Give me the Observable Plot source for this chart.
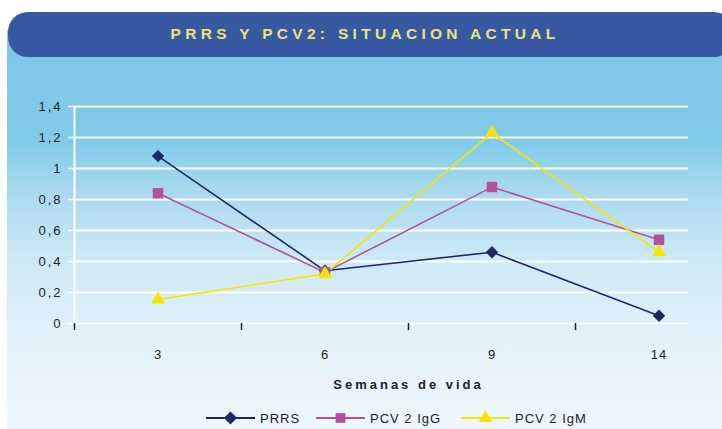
<!DOCTYPE html>
<html>
<head>
<meta charset="utf-8">
<script src="https://cdn.jsdelivr.net/npm/d3@7"></script>
<script src="https://cdn.jsdelivr.net/npm/@observablehq/plot@0.6"></script>
<style>
  html, body { margin: 0; padding: 0; background: #ffffff; }
  #wrap { position: relative; width: 722px; height: 429px; overflow: hidden; font-family: "Liberation Sans", Arial, sans-serif; }
  #panel { position: absolute; left: 7px; top: 30px; width: 720px; height: 400px;
    background: linear-gradient(to bottom, #7ec5e6 0px, #80cbe8 110px, #a8d9ef 160px, #cde9f6 230px, #e2f2fb 310px, #eef7fd 400px); }
  #header { position: absolute; left: 8px; top: 12px; width: 726px; height: 45px; border-radius: 20px;
    background: #3759a1; color: #ece47a; font-weight: bold; font-size: 15.5px; letter-spacing: 4.3px;
    text-align: center; line-height: 44px; }
  #header span { position: absolute; left: 0; width: 722px; text-align: center; margin-left: -4px; }
  #chart { position: absolute; left: 0; top: 0; }
  #chart svg { background: transparent !important; overflow: hidden; }
  #chart g[aria-label="y-axis tick label"] text { letter-spacing: 2px; }
  #chart g[aria-label="x-axis tick label"] text { letter-spacing: 1px; }
  #legend { position: absolute; top: 409px; left: 206px; height: 18px; font-size: 13px; color: #222;
    letter-spacing: 1px; white-space: nowrap; }
  #legend .item { position: absolute; top: 0; display: flex; align-items: center; }
  #legend svg { display: block; margin-right: 5px; }
</style>
</head>
<body>
<div id="wrap">
  <div id="panel"></div>
  <div id="header"><span>PRRS Y PCV2: SITUACION ACTUAL</span></div>
  <div id="chart"></div>
  <div id="legend"></div>
</div>
<script>
const weeks = ["3", "6", "9", "14"];
const prrs = [1.08, 0.34, 0.46, 0.05];
const igg = [0.84, 0.33, 0.88, 0.54];
const igm = [0.155, 0.32, 1.23, 0.46];
const yTicks = [0, 0.2, 0.4, 0.6, 0.8, 1, 1.2, 1.4];
const seriesNames = ["PRRS", "PCV 2 IgG", "PCV 2 IgM"];
const seriesColors = ["#1f2767", "#b4519b", "#f5e500"];
const seriesSymbols = ["diamond2", "square", "triangle"];
const xTitle = "Semanas de vida";

const rows = [];
[prrs, igg, igm].forEach((vals, s) => {
  vals.forEach((v, i) => rows.push({series: seriesNames[s], pos: i + 0.5, value: v}));
});
const fmt = d => String(d).replace(".", ",");

const chart = Plot.plot({
  width: 722,
  height: 429,
  marginLeft: 74,
  marginRight: 34,
  marginTop: 106,
  marginBottom: 106,
  style: {fontFamily: "'Liberation Sans', Arial, sans-serif", fontSize: "13px", color: "#222", background: "transparent"},
  x: {type: "linear", domain: [0, 4], range: [74, 742], label: null},
  y: {domain: [0, 1.4], label: null},
  marks: [
    Plot.gridY(yTicks, {stroke: "white", strokeOpacity: 1, strokeWidth: 2}),
    Plot.axisY(yTicks, {tickSize: 6, stroke: "white", strokeWidth: 1.5, tickPadding: 6, tickFormat: fmt, fill: "#222", fontSize: 13, label: null}),
    Plot.ruleX([0], {stroke: "white", strokeWidth: 2}),
    Plot.axisX([0, 1, 2, 3], {tickSize: 7, stroke: "#222", strokeWidth: 1.5, tickFormat: () => "", label: null}),
    Plot.axisX([0.5, 1.5, 2.5, 3.5], {tickSize: 0, tickPadding: 26, tickFormat: d => weeks[d - 0.5], fill: "#222", fontSize: 13, label: null}),
    Plot.text([xTitle], {x: 2, y: 0, dy: 61, text: d => d, fontWeight: "bold", fontSize: 13, fill: "#222", textAnchor: "middle"}),
    ...seriesNames.map((name, s) =>
      Plot.line(rows.filter(r => r.series === name), {x: "pos", y: "value", stroke: seriesColors[s], strokeWidth: 1.6})),
    ...seriesNames.map((name, s) =>
      Plot.dot(rows.filter(r => r.series === name), {x: "pos", y: "value", symbol: () => seriesSymbols[s],
        fill: seriesColors[s], stroke: "none", r: s === 0 ? 5.6 : (s === 1 ? 5.9 : 5.2)}))
  ]
});
chart.querySelectorAll("text").forEach(t => {
  if (t.textContent === xTitle) t.style.letterSpacing = "3px";
});
document.getElementById("chart").appendChild(chart);

// Legend
const legend = document.getElementById("legend");
const legendX = [0, 110, 255];
seriesNames.forEach((name, s) => {
  const item = document.createElement("div");
  item.className = "item";
  item.style.left = legendX[s] + "px";
  const svg = d3.create("svg").attr("width", 49).attr("height", 18);
  svg.append("line").attr("x1", 0).attr("x2", 49).attr("y1", 9).attr("y2", 9)
    .attr("stroke", seriesColors[s]).attr("stroke-width", 2);
  const sym = [d3.symbolDiamond2, d3.symbolSquare, d3.symbolTriangle][s];
  svg.append("path").attr("transform", "translate(24.5,9)")
    .attr("d", d3.symbol(sym, [110, 95, 80][s])()).attr("fill", seriesColors[s]);
  item.appendChild(svg.node());
  const span = document.createElement("span");
  span.textContent = name;
  item.appendChild(span);
  legend.appendChild(item);
});
</script>
</body>
</html>
